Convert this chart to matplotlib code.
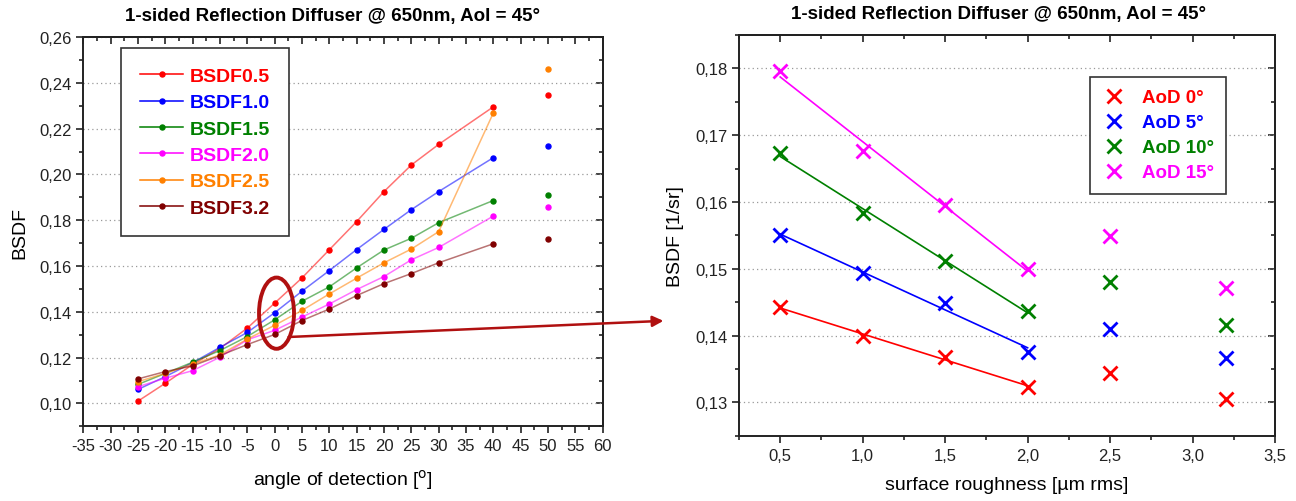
import numpy as np
import matplotlib
matplotlib.use("Agg")
import matplotlib.pyplot as plt
from matplotlib.ticker import MultipleLocator, FuncFormatter
from matplotlib.patches import Ellipse, ConnectionPatch

plt.rcParams['font.family'] = ['Liberation Sans', 'DejaVu Sans']
plt.rcParams['axes.unicode_minus'] = False

# left chart: BSDF vs angle of detection
angles = [-25, -20, -15, -10, -5, 0, 5, 10, 15, 20, 25, 30, 40]
angle_extra = 50
left_labels = ['BSDF0.5', 'BSDF1.0', 'BSDF1.5', 'BSDF2.0', 'BSDF2.5', 'BSDF3.2']
left_colors = ['#ff0000', '#0000ff', '#008000', '#ff00ff', '#ff8000', '#800000']
bsdf05 = [0.1010, 0.1088, 0.1170, 0.1240, 0.1329, 0.1438, 0.1548, 0.1671, 0.1794, 0.1925, 0.2041, 0.2131, 0.2295]
bsdf10 = [0.1061, 0.1117, 0.1178, 0.1245, 0.1310, 0.1396, 0.1490, 0.1580, 0.1672, 0.1760, 0.1846, 0.1925, 0.2073]
bsdf15 = [0.1083, 0.1131, 0.1180, 0.1231, 0.1292, 0.1365, 0.1446, 0.1509, 0.1592, 0.1670, 0.1721, 0.1789, 0.1886]
bsdf20 = [0.1073, 0.1110, 0.1143, 0.1202, 0.1278, 0.1319, 0.1377, 0.1434, 0.1497, 0.1554, 0.1627, 0.1681, 0.1818]
bsdf25 = [0.1095, 0.1131, 0.1171, 0.1212, 0.1281, 0.1341, 0.1406, 0.1478, 0.1547, 0.1614, 0.1674, 0.1750, 0.2268]
bsdf32 = [0.1107, 0.1139, 0.1164, 0.1209, 0.1257, 0.1301, 0.1362, 0.1412, 0.1471, 0.1523, 0.1567, 0.1614, 0.1697]
bsdf_at50 = [0.2345, 0.2122, 0.1911, 0.1858, 0.2461, 0.1718]

# right chart: BSDF vs surface roughness
roughness = [0.5, 1.0, 1.5, 2.0, 2.5, 3.2]
right_labels = ['AoD 0°', 'AoD 5°', 'AoD 10°', 'AoD 15°']
right_colors = ['#ff0000', '#0000ff', '#008000', '#ff00ff']
aod0 = [0.1442, 0.1399, 0.1368, 0.1323, 0.1344, 0.1305]
aod5 = [0.1550, 0.1493, 0.1448, 0.1376, 0.1410, 0.1367]
aod10 = [0.1673, 0.1583, 0.1511, 0.1437, 0.1480, 0.1416]
aod15 = [0.1796, 0.1676, 0.1595, 0.1500, 0.1549, 0.1471]
n_fit = 4  # first four points are fitted

title = '1-sided Reflection Diffuser @ 650nm, AoI = 45°'
comma2 = FuncFormatter(lambda v, p: ('%.2f' % v).replace('.', ','))
TICK_COL = '#222222'


def style_axes(ax, xmaj, xmin, ymaj, ymin):
    for s in ax.spines.values():
        s.set_linewidth(1.4)
        s.set_color(TICK_COL)
    ax.xaxis.set_major_locator(MultipleLocator(xmaj))
    ax.xaxis.set_minor_locator(MultipleLocator(xmin))
    ax.yaxis.set_major_locator(MultipleLocator(ymaj))
    ax.yaxis.set_minor_locator(MultipleLocator(ymin))
    ax.tick_params(which='both', direction='out', colors=TICK_COL, labelsize=12, width=1.2)
    ax.tick_params(which='major', length=5)
    ax.tick_params(which='minor', length=3)
    ax.yaxis.grid(True, which='major', linestyle=(0, (1, 2.5)), color='#999999', linewidth=0.9)
    ax.set_axisbelow(True)
    # top / right ticks point inwards, no labels
    top = ax.secondary_xaxis('top')
    top.xaxis.set_major_locator(MultipleLocator(xmaj))
    top.xaxis.set_minor_locator(MultipleLocator(xmin))
    top.tick_params(which='both', direction='in', labeltop=False, colors=TICK_COL, width=1.2)
    top.tick_params(which='major', length=5)
    top.tick_params(which='minor', length=3)
    right = ax.secondary_yaxis('right')
    right.yaxis.set_major_locator(MultipleLocator(ymaj))
    right.yaxis.set_minor_locator(MultipleLocator(ymin))
    right.tick_params(which='both', direction='in', labelright=False, colors=TICK_COL, width=1.2)
    right.tick_params(which='major', length=5)
    right.tick_params(which='minor', length=3)
    for sec in (top, right):
        for s in sec.spines.values():
            s.set_linewidth(1.4)
            s.set_color(TICK_COL)


fig = plt.figure(figsize=(12.96, 5.02), dpi=100)
ax1 = fig.add_axes([0.0643, 0.1488, 0.4007, 0.7755])
ax2 = fig.add_axes([0.5702, 0.1300, 0.4136, 0.7984])

# ---- left ----
series = [bsdf05, bsdf10, bsdf15, bsdf20, bsdf25, bsdf32]
for ys, lab, c in zip(series, left_labels, left_colors):
    ax1.plot(angles, ys, '-', color=c, alpha=0.55, lw=1.1)
    ax1.plot(angles, ys, 'o', color=c, ms=3.6, mec=c)
    ax1.plot([], [], '-o', color=c, lw=1.1, ms=3.6, label=lab)
for v, c in zip(bsdf_at50, left_colors):
    ax1.plot([angle_extra], [v], 'o', color=c, ms=3.6)

ax1.set_xlim(-35, 60)
ax1.set_ylim(0.09, 0.26)
style_axes(ax1, 5, 2.5, 0.02, 0.01)
ax1.yaxis.set_major_formatter(comma2)
ax1.set_title(title, fontsize=13.5, fontweight='bold', pad=12, x=0.479)
ax1.set_xlabel('angle of detection [$^{\\rm o}$]', fontsize=14, labelpad=10)
ax1.set_ylabel('BSDF', fontsize=14, labelpad=8)

leg1 = ax1.legend(loc='upper left', bbox_to_anchor=(0.072, 0.972), borderaxespad=0,
                  fancybox=False, edgecolor='#333333', framealpha=1,
                  prop={'size': 14, 'weight': 'bold'}, handlelength=2.2,
                  handletextpad=0.35, labelspacing=0.45, borderpad=1.0)
leg1.get_frame().set_linewidth(1.2)
for txt, c in zip(leg1.get_texts(), left_colors):
    txt.set_color(c)

# ---- right ----
rseries = [aod0, aod5, aod10, aod15]
for ys, lab, c in zip(rseries, right_labels, right_colors):
    ax2.plot(roughness, ys, 'x', color=c, ms=9.5, mew=2, label=lab)
    k, b = np.polyfit(roughness[:n_fit], ys[:n_fit], 1)
    xf = np.array([roughness[0], roughness[n_fit - 1]])
    ax2.plot(xf, k * xf + b, '-', color=c, lw=1.2)

ax2.set_xlim(0.25, 3.5)
ax2.set_ylim(0.125, 0.185)
style_axes(ax2, 0.5, 0.25, 0.01, 0.005)
ax2.xaxis.set_major_formatter(FuncFormatter(lambda v, p: ('%.1f' % v).replace('.', ',') if v > 0.3 else ''))
ax2.yaxis.set_major_formatter(comma2)
ax2.set_title(title, fontsize=13.5, fontweight='bold', pad=12, x=0.485)
ax2.set_xlabel('surface roughness [µm rms]', fontsize=14, labelpad=10)
ax2.set_ylabel('BSDF [1/sr]', fontsize=14, labelpad=8)

leg2 = ax2.legend(loc='upper right', bbox_to_anchor=(0.909, 0.895), borderaxespad=0,
                  fancybox=False, edgecolor='#333333', framealpha=1,
                  prop={'size': 13.5, 'weight': 'bold'}, handlelength=1.2,
                  handletextpad=0.9, labelspacing=0.42, borderpad=0.65)
leg2.get_frame().set_linewidth(1.2)
for txt, c in zip(leg2.get_texts(), right_colors):
    txt.set_color(c)

# highlight around 0 deg and arrow to right chart
ell = Ellipse((0.34, 0.1394), width=6.4, height=0.0311, fill=False,
              edgecolor='#b01010', lw=2.8, zorder=5)
ax1.add_patch(ell)
arrow = ConnectionPatch(xyA=(2.55, 0.129), coordsA=ax1.transData,
                        xyB=(-0.208, 0.1422), coordsB=ax2.transData,
                        arrowstyle='-|>', color='#b01010', lw=1.8,
                        mutation_scale=16)
fig.add_artist(arrow)

fig.savefig('out.png', dpi=100)
